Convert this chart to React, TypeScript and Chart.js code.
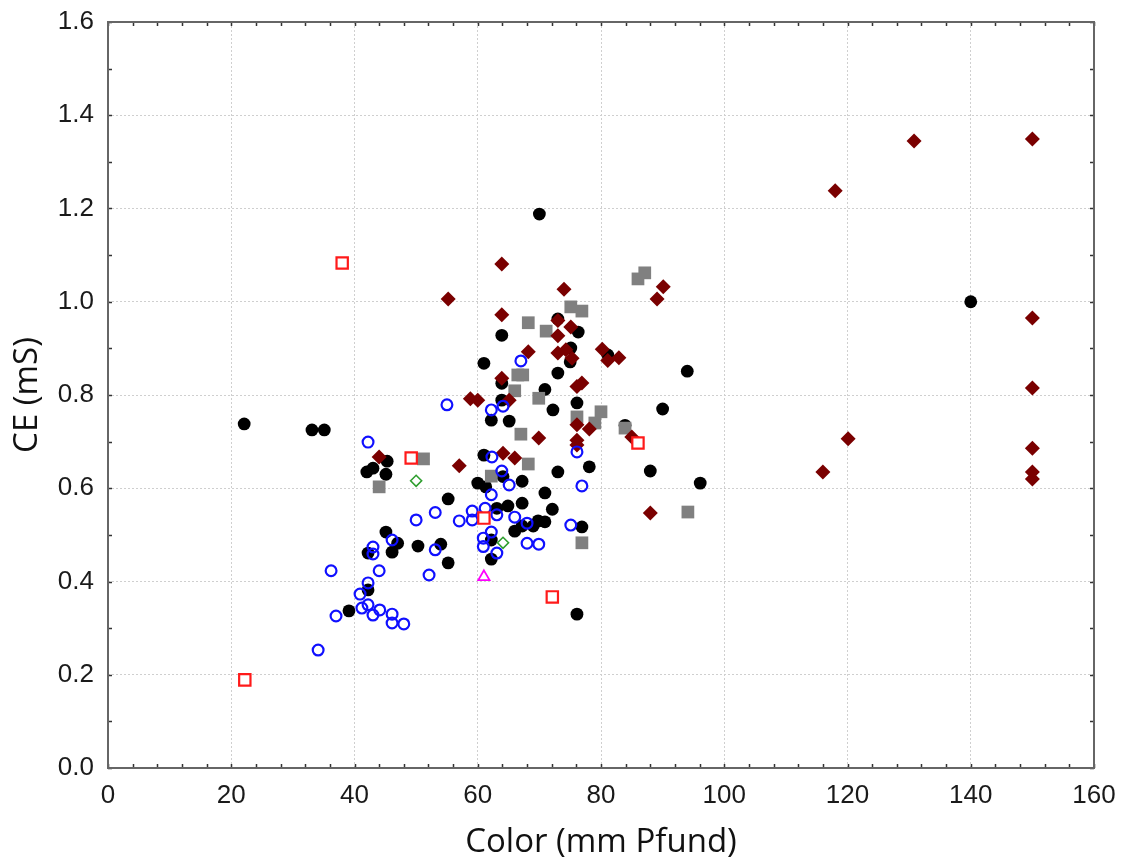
import React, { useEffect, useRef } from "react";
import { Chart, registerables } from "chart.js";

Chart.register(...registerables);

// ---- Data (Color in mm Pfund, CE in mS) ----
const blackCircles: [number, number][] = [
  [22.1, 0.738], [33.1, 0.725], [35.1, 0.725], [70.0, 1.188], [140.0, 1.0],
  [94.0, 0.851], [90.0, 0.77], [96.1, 0.611], [88.0, 0.637], [76.1, 0.33],
  [76.9, 0.517], [78.1, 0.646], [73.0, 0.635], [70.9, 0.59], [72.1, 0.555],
  [69.0, 0.519], [69.8, 0.53], [70.9, 0.528], [66.0, 0.508], [67.2, 0.519],
  [67.2, 0.568], [64.9, 0.562], [63.1, 0.557], [67.2, 0.615], [64.1, 0.625],
  [61.0, 0.671], [60.0, 0.611], [61.3, 0.603], [55.2, 0.577], [62.2, 0.489],
  [62.2, 0.448], [54.0, 0.48], [55.2, 0.44], [50.3, 0.476], [45.3, 0.658],
  [42.0, 0.635], [43.0, 0.643], [45.1, 0.63], [45.1, 0.506], [47.0, 0.482],
  [46.1, 0.463], [42.2, 0.461], [42.2, 0.382], [39.1, 0.337], [73.0, 0.963],
  [63.9, 0.928], [76.3, 0.935], [75.1, 0.901], [75.0, 0.871], [73.0, 0.847],
  [81.1, 0.886], [61.0, 0.868], [63.9, 0.825], [70.9, 0.812], [76.1, 0.783],
  [63.9, 0.789], [72.2, 0.768], [62.2, 0.746], [65.1, 0.744], [83.9, 0.735],
];

const blueCircles: [number, number][] = [
  [42.2, 0.699], [55.0, 0.779], [53.1, 0.548], [50.0, 0.532], [46.1, 0.489],
  [43.0, 0.474], [43.0, 0.459], [53.1, 0.468], [52.1, 0.414], [36.2, 0.423],
  [44.0, 0.423], [42.2, 0.397], [40.9, 0.373], [37.0, 0.326], [41.2, 0.343],
  [42.2, 0.35], [43.0, 0.328], [44.1, 0.339], [46.1, 0.33], [46.1, 0.311],
  [48.0, 0.309], [34.1, 0.253], [67.0, 0.873], [62.2, 0.768], [64.1, 0.776],
  [76.1, 0.678], [62.3, 0.667], [63.9, 0.637], [65.1, 0.607], [76.9, 0.605],
  [62.2, 0.586], [59.1, 0.551], [61.2, 0.557], [63.1, 0.543], [57.0, 0.53],
  [59.1, 0.532], [66.0, 0.538], [68.0, 0.525], [75.1, 0.521], [62.2, 0.506],
  [60.9, 0.493], [68.0, 0.482], [69.9, 0.48], [60.9, 0.475], [63.1, 0.461],
];

const darkRedDiamonds: [number, number][] = [
  [44.0, 0.667], [57.0, 0.648], [64.1, 0.675], [66.0, 0.665], [76.1, 0.693],
  [88.0, 0.547], [63.9, 1.081], [55.2, 1.006], [74.0, 1.027], [90.1, 1.032],
  [89.1, 1.006], [63.9, 0.972], [75.1, 0.946], [73.0, 0.927], [68.2, 0.893],
  [73.0, 0.89], [74.3, 0.897], [75.3, 0.879], [80.2, 0.898], [81.1, 0.874],
  [82.9, 0.88], [63.9, 0.836], [76.9, 0.826], [76.1, 0.818], [58.8, 0.792],
  [60.0, 0.789], [65.1, 0.789], [78.1, 0.727], [85.0, 0.71], [76.1, 0.736],
  [69.9, 0.708], [76.1, 0.703], [130.8, 1.345], [150.0, 1.349], [118.0, 1.238],
  [150.0, 0.965], [150.0, 0.815], [120.1, 0.706], [150.0, 0.686], [116.0, 0.635],
  [150.0, 0.635], [150.0, 0.62], [73.0, 0.96],
];

const graySquares: [number, number][] = [
  [44.0, 0.603], [51.2, 0.663], [62.2, 0.626], [68.2, 0.652], [76.9, 0.483],
  [94.1, 0.549], [86.0, 1.049], [87.1, 1.062], [75.1, 0.989], [76.9, 0.98],
  [68.2, 0.955], [71.1, 0.937], [66.5, 0.843], [67.3, 0.843], [66.0, 0.809],
  [69.9, 0.793], [76.1, 0.753], [80.0, 0.764], [79.0, 0.74], [83.9, 0.729],
  [67.0, 0.716],
];

const redOpenSquares: [number, number][] = [
  [22.2, 0.189], [38.0, 1.083], [49.2, 0.665], [61.0, 0.536], [72.1, 0.367], [86.0, 0.697],
];

const greenOpenDiamonds: [number, number][] = [
  [50.0, 0.616], [64.1, 0.483],
];

const magentaTriangles: [number, number][] = [
  [61.0, 0.41],
];

// ---- Axes ----
const X_MIN = 0, X_MAX = 160, X_STEP = 20, X_MINOR = 4;
const Y_MIN = 0, Y_MAX = 1.6, Y_STEP = 0.2, Y_MINOR = 0.1;
const X_TITLE = "Color (mm Pfund)";
const Y_TITLE = "CE (mS)";

const toPts = (arr: [number, number][]) => arr.map(([x, y]) => ({ x, y }));

const framePlugin = {
  id: "frameTicks",
  afterDraw(chart: any) {
    const { ctx, chartArea } = chart;
    const { left, right, top, bottom } = chartArea;
    const xs = chart.scales.x;
    const ys = chart.scales.y;
    ctx.save();
    ctx.strokeStyle = "#333";
    ctx.lineWidth = 1.5;
    const L = 4;
    ctx.beginPath();
    for (let i = 0; i <= Math.round((X_MAX - X_MIN) / X_MINOR); i++) {
      const px = Math.round(xs.getPixelForValue(X_MIN + i * X_MINOR)) + 0.5;
      ctx.moveTo(px, bottom);
      ctx.lineTo(px, bottom - L);
      ctx.moveTo(px, top);
      ctx.lineTo(px, top + L);
    }
    for (let i = 0; i <= Math.round((Y_MAX - Y_MIN) / Y_MINOR); i++) {
      const py = Math.round(ys.getPixelForValue(Y_MIN + i * Y_MINOR)) + 0.5;
      ctx.moveTo(left, py);
      ctx.lineTo(left + L, py);
      ctx.moveTo(right, py);
      ctx.lineTo(right - L, py);
    }
    ctx.stroke();
    ctx.strokeStyle = "#666";
    ctx.lineWidth = 2;
    ctx.strokeRect(left, top, right - left, bottom - top);
    ctx.restore();
  },
};

export default function App() {
  const ref = useRef<HTMLCanvasElement | null>(null);

  useEffect(() => {
    if (!ref.current) return;
    const tickFont = { family: "'Liberation Sans', Arial, sans-serif", size: 26 };
    const titleFont = { family: "'Open Sans', 'Noto Sans', sans-serif", size: 33 };
    const chart = new Chart(ref.current, {
      type: "scatter",
      data: {
        datasets: [
          {
            label: "magenta",
            data: toPts(magentaTriangles),
            pointStyle: "triangle",
            pointRadius: 6.5,
            borderColor: "#ff00ff",
            backgroundColor: "rgba(255,255,255,0)",
            borderWidth: 1.8,
          },
          {
            label: "green",
            data: toPts(greenOpenDiamonds),
            pointStyle: "rectRot",
            pointRadius: 5.5,
            borderColor: "#2e9e2e",
            backgroundColor: "rgba(255,255,255,0)",
            borderWidth: 1.6,
          },
          {
            label: "red",
            data: toPts(redOpenSquares),
            pointStyle: "rect",
            pointRadius: 8,
            borderColor: "#ff1a1a",
            backgroundColor: "#ffffff",
            borderWidth: 2.2,
          },
          {
            label: "blue",
            data: toPts(blueCircles),
            pointStyle: "circle",
            pointRadius: 5.4,
            borderColor: "#1010ff",
            backgroundColor: "rgba(255,255,255,0)",
            borderWidth: 2.2,
          },
          {
            label: "darkred",
            data: toPts(darkRedDiamonds),
            pointStyle: "rectRot",
            pointRadius: 7.5,
            borderColor: "#7a0000",
            backgroundColor: "#7a0000",
            borderWidth: 0,
          },
          {
            label: "gray",
            data: toPts(graySquares),
            pointStyle: "rect",
            pointRadius: 9,
            borderColor: "#808080",
            backgroundColor: "#808080",
            borderWidth: 0,
          },
          {
            label: "black",
            data: toPts(blackCircles),
            pointStyle: "circle",
            pointRadius: 6.4,
            borderColor: "#000",
            backgroundColor: "#000",
            borderWidth: 0,
          },
        ],
      },
      options: {
        animation: false,
        responsive: true,
        maintainAspectRatio: false,
        events: [],
        layout: { padding: { top: 22, right: 29, left: 0, bottom: 0 } },
        plugins: { legend: { display: false }, tooltip: { enabled: false } },
        scales: {
          x: {
            type: "linear",
            min: X_MIN,
            max: X_MAX,
            ticks: { stepSize: X_STEP, font: tickFont, color: "#1a1a1a", padding: 12, maxRotation: 0 },
            grid: { color: "#cfcfcf", lineWidth: 1, drawTicks: false },
            border: { display: false, dash: [2, 2] },
            title: { display: true, text: X_TITLE, font: titleFont, color: "#111", padding: { top: 4, bottom: 0 } },
            afterFit: (s: any) => {
              s.height = 94;
              s.paddingLeft = 0;
              s.paddingRight = 0;
            },
          },
          y: {
            type: "linear",
            min: Y_MIN,
            max: Y_MAX,
            ticks: {
              stepSize: Y_STEP,
              font: tickFont,
              color: "#1a1a1a",
              padding: 14,
              callback: (v: any) => Number(v).toFixed(1),
            },
            grid: { color: "#cfcfcf", lineWidth: 1, drawTicks: false },
            border: { display: false, dash: [2, 2] },
            title: { display: true, text: Y_TITLE, font: titleFont, color: "#111", padding: { top: 8, bottom: 0 } },
            afterFit: (s: any) => {
              s.width = 108;
              s.paddingTop = 0;
              s.paddingBottom = 0;
            },
          },
        },
      },
      plugins: [framePlugin],
    });
    return () => chart.destroy();
  }, []);

  return (
    <div style={{ position: "absolute", left: 0, top: 0, width: 1123, height: 862, background: "#fff" }}>
      <canvas ref={ref} />
    </div>
  );
}
